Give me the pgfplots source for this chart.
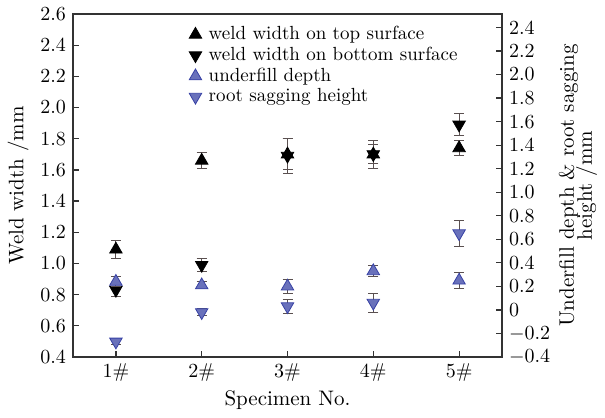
\documentclass[border=0pt]{standalone}
\usepackage{pgfplots}
\pgfplotsset{compat=1.18}
\usepackage{pgfplotstable}
\definecolor{myblue}{RGB}{55,65,165}
\definecolor{errgray}{RGB}{90,80,80}

% x, value, error
\pgfplotstableread{
x y e
1 1.09 0.06
2 1.66 0.05
3 1.70 0.10
4 1.70 0.06
5 1.74 0.05
}\topwidth
\pgfplotstableread{
x y e
1 0.83 0.04
2 0.99 0.04
3 1.69 0.11
4 1.70 0.09
5 1.89 0.07
}\bottomwidth
\pgfplotstableread{
x y e
1 0.24 0.04
2 0.21 0.03
3 0.20 0.06
4 0.33 0.05
5 0.25 0.07
}\underfill
\pgfplotstableread{
x y e
1 -0.27 0.02
2 -0.02 0.03
3 0.03 0.06
4 0.06 0.08
5 0.65 0.11
}\sagging

\begin{document}
\begin{tikzpicture}
\pgfplotsset{
  every axis/.append style={
    width=214.5pt, height=171.5pt, scale only axis,
    xmin=0.5, xmax=5.5,
    axis line style={line width=0.7pt, black!80},
    tick style={black!80, line width=0.6pt},
    tick align=inside,
    major tick length=3pt,
    tick label style={font=\normalsize},
    label style={font=\fontsize{10.5}{12}\selectfont},
  },
  errbar/.style={
    error bars/y dir=both, error bars/y explicit,
    error bars/error bar style={errgray, line width=0.5pt},
    error bars/error mark options={rotate=90, errgray, mark size=2.5pt, line width=0.5pt},
  },
}
\begin{axis}[
  name=main,
  ymin=0.4, ymax=2.6,
  ytick={0.4,0.6,...,2.61},
  yticklabel style={/pgf/number format/fixed, /pgf/number format/fixed zerofill, /pgf/number format/precision=1},
  xtick={1,2,3,4,5},
  xticklabels={1\#,2\#,3\#,4\#,5\#},
  xtick pos=bottom, ytick pos=left,
  xlabel={Specimen No.},
  xlabel style={at={(axis description cs:0.5,-0.125)}, anchor=center},
  ylabel={Weld width /mm},
  ylabel style={at={(axis description cs:-0.128,0.5)}, anchor=center},
  legend cell align=left,
  legend image code/.code={\draw[#1] plot coordinates {(0pt,0pt)};},
  legend style={at={(rel axis cs:0.27,0.965)}, anchor=north west, draw=none, fill=none,
    inner sep=0pt, column sep=3.5pt, row sep=2.2pt,
    nodes={inner sep=0pt}, font=\fontsize{9.5}{11}\selectfont},
]
\addplot+[only marks, errbar, mark=triangle*, mark size=3.6pt, black, mark options={fill=black}]
  table[x=x, y=y, y error=e] {\topwidth};
\addlegendentry{weld width on top surface}
\addplot+[only marks, errbar, mark=triangle*, mark size=3.6pt, black, mark options={fill=black, rotate=180}]
  table[x=x, y=y, y error=e] {\bottomwidth};
\addlegendentry{weld width on bottom surface}
\addlegendimage{only marks, mark=triangle*, mark size=3.6pt, myblue, mark options={fill=myblue!75!white}}
\addlegendentry{underfill depth}
\addlegendimage{only marks, mark=triangle*, mark size=3.6pt, myblue, mark options={fill=myblue!75!white, rotate=180}}
\addlegendentry{root sagging height}
\end{axis}
\begin{axis}[
  ymin=-0.4, ymax=2.514,
  ytick={-0.4,-0.2,...,2.41},
  yticklabels={$-0.4$,$-0.2$,0,0.2,0.4,0.6,0.8,1.0,1.2,1.4,1.6,1.8,2.0,2.2,2.4},
  axis y line*=right,
  axis x line=none,
  ylabel={Underfill depth \& root sagging\\[-3pt]height /mm},
  ylabel style={align=center, at={(axis description cs:1.177,0.5)}, anchor=center},
]
\addplot+[only marks, errbar, mark=triangle*, mark size=3.6pt, myblue, mark options={fill=myblue!75!white}]
  table[x=x, y=y, y error=e] {\underfill};
\addplot+[only marks, errbar, mark=triangle*, mark size=3.6pt, myblue, mark options={fill=myblue!75!white, rotate=180}]
  table[x=x, y=y, y error=e] {\sagging};
\end{axis}
\pgfresetboundingbox
\path[use as bounding box] ([shift={(-36.5pt,-30pt)}]main.south west) rectangle ([shift={(51.5pt,7pt)}]main.north east);
\end{tikzpicture}
\end{document}
